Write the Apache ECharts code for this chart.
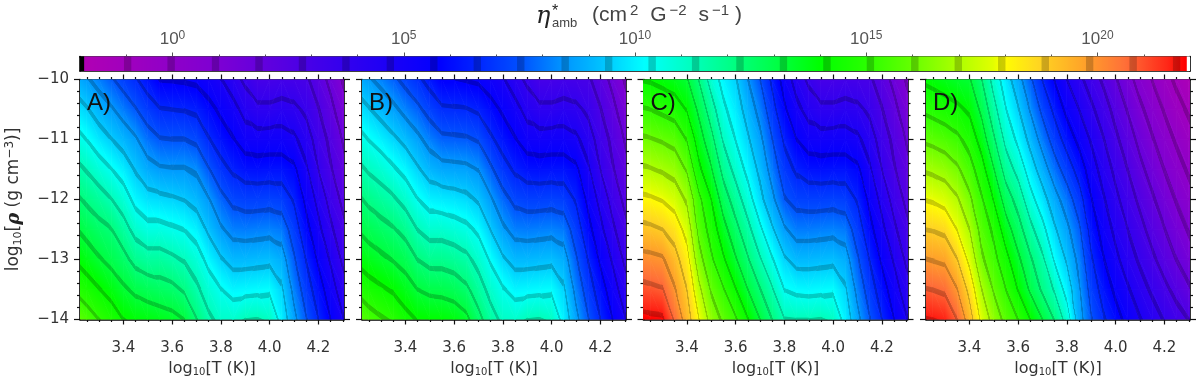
<!DOCTYPE html>
<html>
<head>
<meta charset="utf-8">
<style>
  html, body { margin: 0; background: #fff; }
  #chart { width: 1200px; height: 377px; }
</style>
<script src="https://cdn.jsdelivr.net/npm/echarts@6/dist/echarts.min.js"></script>
</head>
<body>
<div id="chart"></div>
<script>
// log10 of eta, one inner list per temperature column, density running -10 to -14
const tempColumns = [3.2, 3.25, 3.3, 3.35, 3.4, 3.45, 3.5, 3.55, 3.6, 3.65, 3.7, 3.75, 3.8, 3.85, 3.9, 3.95, 4.0, 4.05, 4.1, 4.15, 4.2, 4.25, 4.3, 4.35]
const rhoRows = [-10, -10.5, -11, -11.5, -12, -12.5, -13, -13.5, -14]

const panelA = [
  [9.0, 9.9, 10.75, 11.65, 12.5, 13.3, 14.1, 15.0, 15.95],
  [8.6, 9.5, 10.35, 11.25, 12.1, 12.9, 13.7, 14.6, 15.55],
  [8.15, 9.0, 9.85, 10.8, 11.75, 12.55, 13.3, 14.2, 15.1],
  [7.65, 8.6, 9.45, 10.4, 11.35, 12.3, 12.95, 13.8, 14.7],
  [7.15, 8.1, 9.05, 9.95, 10.85, 11.7, 12.55, 13.35, 14.15],
  [6.7, 7.6, 8.6, 9.35, 10.1, 11.0, 11.95, 13.0, 13.9],
  [6.15, 7.05, 7.95, 8.85, 9.75, 10.65, 11.7, 12.8, 13.8],
  [5.62, 6.65, 7.6, 8.6, 9.65, 10.65, 11.7, 12.65, 13.65],
  [5.6, 6.6, 7.55, 8.55, 9.55, 10.5, 11.5, 12.5, 13.5],
  [5.55, 6.55, 7.55, 8.55, 9.4, 10.35, 11.25, 12.15, 13.2],
  [5.45, 6.4, 7.35, 8.35, 9.1, 10.0, 10.8, 11.5, 12.3],
  [5.1, 5.95, 6.65, 7.6, 8.55, 9.25, 10.1, 10.85, 11.5],
  [4.75, 5.45, 6.15, 6.9, 7.8, 8.6, 9.5, 10.4, 11.05],
  [4.15, 5.05, 5.7, 6.45, 7.3, 8.15, 9.1, 10.05, 11.0],
  [3.55, 4.35, 5.2, 6.15, 7.15, 8.1, 9.1, 10.1, 11.3],
  [3.0, 4.0, 5.1, 6.1, 7.15, 8.15, 9.15, 10.15, 11.35],
  [3.0, 4.0, 5.15, 6.15, 7.2, 8.2, 9.2, 10.2, 11.15],
  [3.1, 4.15, 5.15, 6.15, 7.1, 8.05, 8.9, 9.55, 10.0],
  [3.05, 4.0, 4.9, 5.85, 6.5, 7.1, 7.65, 8.2, 8.75],
  [2.95, 3.55, 4.25, 4.85, 5.4, 5.95, 6.55, 7.05, 7.6],
  [2.35, 2.85, 3.3, 3.75, 4.4, 4.95, 5.5, 6.1, 6.6],
  [1.6, 2.15, 2.6, 2.9, 3.4, 3.95, 4.6, 5.15, 5.65],
  [0.85, 1.3, 1.8, 2.2, 2.6, 3.1, 3.6, 4.2, 4.8],
  [0.25, 0.7, 1.15, 1.55, 1.95, 2.4, 2.95, 3.5, 4.1]
]

const panelB = [
  [9.0, 9.9, 10.75, 11.6, 12.45, 13.2, 14.0, 14.95, 15.9],
  [8.6, 9.5, 10.35, 11.2, 12.05, 12.85, 13.65, 14.55, 15.5],
  [8.2, 9.1, 10.0, 10.9, 11.75, 12.6, 13.4, 14.3, 15.2],
  [7.75, 8.7, 9.6, 10.5, 11.45, 12.35, 13.15, 14.05, 14.95],
  [7.25, 8.2, 9.2, 10.1, 11.0, 11.95, 12.85, 13.65, 14.45],
  [6.8, 7.75, 8.7, 9.55, 10.4, 11.3, 12.25, 13.2, 14.1],
  [6.25, 7.2, 8.15, 9.05, 10.0, 10.95, 11.95, 13.0, 14.0],
  [5.7, 6.75, 7.75, 8.8, 9.9, 10.95, 11.95, 12.95, 13.95],
  [5.7, 6.7, 7.7, 8.75, 9.8, 10.8, 11.8, 12.8, 13.8],
  [5.6, 6.65, 7.65, 8.7, 9.65, 10.6, 11.55, 12.45, 13.45],
  [5.5, 6.45, 7.45, 8.45, 9.3, 10.2, 11.0, 11.75, 12.55],
  [5.15, 6.0, 6.75, 7.7, 8.6, 9.4, 10.25, 11.0, 11.7],
  [4.8, 5.5, 6.2, 6.95, 7.85, 8.65, 9.55, 10.45, 11.1],
  [4.15, 5.05, 5.7, 6.45, 7.3, 8.15, 9.1, 10.05, 11.0],
  [3.55, 4.35, 5.2, 6.15, 7.15, 8.1, 9.1, 10.1, 11.3],
  [3.0, 4.0, 5.1, 6.1, 7.15, 8.15, 9.15, 10.15, 11.35],
  [3.0, 4.0, 5.15, 6.15, 7.2, 8.2, 9.2, 10.2, 11.15],
  [3.1, 4.15, 5.15, 6.15, 7.1, 8.05, 8.9, 9.55, 10.0],
  [3.05, 4.0, 4.9, 5.85, 6.5, 7.1, 7.65, 8.2, 8.75],
  [2.95, 3.55, 4.25, 4.85, 5.4, 5.95, 6.55, 7.05, 7.6],
  [2.35, 2.85, 3.3, 3.75, 4.4, 4.95, 5.5, 6.1, 6.6],
  [1.6, 2.15, 2.6, 2.9, 3.4, 3.95, 4.6, 5.15, 5.65],
  [0.85, 1.3, 1.8, 2.2, 2.6, 3.1, 3.6, 4.2, 4.8],
  [0.25, 0.7, 1.15, 1.55, 1.95, 2.4, 2.95, 3.5, 4.1]
]

const panelC = [
  [14.15, 15.2, 16.2, 17.15, 18.15, 19.15, 20.15, 21.05, 22.0],
  [14.05, 15.1, 16.1, 17.05, 18.05, 19.05, 20.05, 20.95, 21.9],
  [13.85, 14.9, 15.95, 16.88, 17.88, 18.87, 19.93, 20.82, 21.85],
  [13.65, 14.67, 15.75, 16.65, 17.55, 18.46, 19.23, 19.9, 20.65],
  [13.3, 14.1, 15.05, 15.95, 16.85, 17.6, 18.28, 18.87, 19.35],
  [12.2, 13.0, 13.65, 14.35, 15.3, 15.75, 16.38, 17.2, 17.93],
  [10.9, 11.75, 12.55, 13.3, 14.15, 14.7, 15.25, 15.93, 16.6],
  [10.05, 10.55, 11.2, 11.95, 12.75, 13.55, 14.27, 15.15, 15.85],
  [9.5, 9.9, 10.35, 11.0, 11.8, 12.55, 13.3, 14.2, 15.2],
  [8.5, 9.05, 9.55, 10.1, 10.8, 11.6, 12.35, 13.2, 14.2],
  [7.55, 8.15, 8.7, 9.2, 9.7, 10.55, 11.4, 12.3, 13.2],
  [6.4, 6.95, 7.55, 8.1, 8.7, 9.55, 10.45, 11.4, 12.25],
  [5.25, 5.8, 6.45, 7.0, 7.6, 8.6, 9.55, 10.35, 11.35],
  [4.3, 4.95, 5.65, 6.45, 7.2, 8.1, 9.1, 10.15, 11.3],
  [3.55, 4.35, 5.2, 6.15, 7.15, 8.1, 9.1, 10.1, 11.3],
  [3.0, 4.0, 5.1, 6.1, 7.15, 8.15, 9.15, 10.15, 11.35],
  [3.0, 4.0, 5.15, 6.15, 7.2, 8.2, 9.2, 10.2, 11.15],
  [3.1, 4.15, 5.15, 6.15, 7.1, 8.05, 8.9, 9.55, 10.0],
  [3.05, 4.0, 4.9, 5.85, 6.5, 7.1, 7.65, 8.2, 8.75],
  [2.95, 3.55, 4.25, 4.85, 5.4, 5.95, 6.55, 7.05, 7.6],
  [2.35, 2.85, 3.3, 3.75, 4.4, 4.95, 5.5, 6.1, 6.6],
  [1.6, 2.15, 2.6, 2.9, 3.4, 3.95, 4.6, 5.15, 5.65],
  [0.85, 1.3, 1.8, 2.2, 2.6, 3.1, 3.6, 4.2, 4.8],
  [0.25, 0.7, 1.15, 1.55, 1.95, 2.4, 2.95, 3.5, 4.1]
]

const panelD = [
  [14.05, 15.0, 15.95, 16.95, 17.95, 18.9, 19.9, 20.85, 21.8],
  [13.85, 14.8, 15.8, 16.8, 17.83, 18.82, 19.78, 20.75, 21.7],
  [13.65, 14.6, 15.6, 16.6, 17.6, 18.65, 19.65, 20.6, 21.55],
  [13.45, 14.35, 15.3, 16.2, 17.1, 17.9, 18.9, 19.85, 20.75],
  [13.3, 14.0, 14.75, 15.5, 16.25, 17.0, 17.7, 18.6, 19.35],
  [12.3, 13.0, 13.75, 14.55, 15.2, 15.7, 16.2, 17.0, 17.7],
  [10.95, 11.65, 12.4, 13.25, 14.1, 14.9, 15.4, 15.95, 16.6],
  [9.85, 10.4, 11.05, 11.85, 12.75, 13.65, 14.45, 15.1, 15.75],
  [8.85, 9.5, 10.15, 11.0, 11.9, 12.65, 13.4, 14.1, 15.1],
  [7.7, 8.4, 9.15, 9.9, 10.7, 11.6, 12.4, 13.05, 14.15],
  [6.55, 7.3, 8.1, 8.95, 9.8, 10.65, 11.5, 12.1, 13.2],
  [5.6, 6.35, 7.1, 7.95, 8.85, 9.55, 10.25, 11.2, 12.2],
  [4.7, 5.4, 6.2, 7.1, 8.0, 8.7, 9.3, 10.0, 10.9],
  [4.0, 4.7, 5.4, 6.2, 7.0, 7.7, 8.2, 8.6, 8.9],
  [3.3, 3.95, 4.6, 5.15, 5.7, 6.2, 6.7, 7.15, 7.6],
  [2.65, 3.25, 3.8, 4.3, 4.8, 5.25, 5.7, 6.2, 6.7],
  [1.95, 2.5, 3.0, 3.5, 4.0, 4.45, 4.95, 5.45, 6.0],
  [1.25, 1.8, 2.3, 2.8, 3.25, 3.75, 4.2, 4.8, 5.35],
  [0.55, 1.1, 1.6, 2.1, 2.6, 3.1, 3.6, 4.15, 4.75],
  [-0.05, 0.5, 1.0, 1.5, 2.0, 2.45, 3.0, 3.6, 4.2],
  [-0.6, -0.1, 0.4, 0.9, 1.4, 1.9, 2.4, 3.05, 3.7],
  [-1.15, -0.65, -0.15, 0.35, 0.85, 1.35, 1.85, 2.5, 3.2],
  [-1.6, -1.1, -0.6, -0.15, 0.35, 0.85, 1.35, 2.0, 2.8],
  [-2.0, -1.55, -1.05, -0.6, -0.15, 0.35, 0.85, 1.5, 2.4]
]

const tempTicks = [3.4, 3.6, 3.8, 4.0, 4.2]
const tempMinorTicks = [3.25, 3.3, 3.35, 3.45, 3.5, 3.55, 3.65, 3.7, 3.75, 3.85, 3.9, 3.95, 4.05, 4.1, 4.15, 4.25, 4.3]
const rhoTicks = [-14, -13, -12, -11, -10]
const rhoMinorTicks = [-13.8, -13.6, -13.4, -13.2, -12.8, -12.6, -12.4, -12.2, -11.8, -11.6, -11.4, -11.2, -10.8, -10.6, -10.4, -10.2]
const barTicks = [0, 5, 10, 15, 20]
const barMinorTicks = [-1, 1, 2, 3, 4, 6, 7, 8, 9, 11, 12, 13, 14, 16, 17, 18, 19, 21]
const barRange = [-2, 22]
const panelNames = ['A)', 'B)', 'C)', 'D)']

// colour table: log10 eta and colour
const tableValues = [-1.88, 1.04, 3.2, 5.79, 7.52, 8.38, 9.24, 10.2, 11.19, 12.16, 13.13, 13.99, 14.97, 15.9, 16.8, 17.73, 17.95, 18.68, 19.6, 20.58, 21.5, 21.9]
const tableColors = ['#b000b4', '#7c00d4', '#4000ea', '#0000ff', '#0050ff', '#0090ff', '#00c0ff', '#00ffff', '#00ffc0', '#00ff80', '#00ff40', '#00ff00', '#28ff00', '#60ff00', '#a0ff00', '#e0ff00', '#ffff00', '#ffd820', '#ffa828', '#ff7038', '#ff2818', '#ff0000']
const bandFirst = -0.968
const bandStep = 0.945
const bandHalf = 0.08

const tableRgb = tableColors.map(c => [1, 3, 5].map(i => parseInt(c.substr(i, 2), 16)))

function colorAt(v) {
  if (v < barRange[0] + 0.09) return 'rgb(0,0,0)'
  if (v > 21.92) return 'rgb(255,255,255)'
  let i = 0
  while (i < tableValues.length - 2 && v > tableValues[i + 1]) i++
  const t = Math.min(1, Math.max(0, (v - tableValues[i]) / (tableValues[i + 1] - tableValues[i])))
  let rgb = tableRgb[i].map((c, n) => c + (tableRgb[i + 1][n] - c) * t)
  // the contours are dark bands of the colour table itself
  const k = Math.round((v - bandFirst) / bandStep)
  if (k >= 0 && k <= 24 && Math.abs(v - (bandFirst + k * bandStep)) < bandHalf) {
    rgb = rgb.map(c => c * 0.8)
  }
  return 'rgb(' + rgb.map(Math.round).join(',') + ')'
}

// panels stop short of the white end cell of the bar
function panelColorAt(v) {
  return colorAt(Math.min(21.9, Math.max(-1.85, v)))
}

function shadeTriangle(pts, vals) {
  // fill one triangle with the colour table laid along its value gradient
  const dx1 = pts[1][0] - pts[0][0]
  const dy1 = pts[1][1] - pts[0][1]
  const dx2 = pts[2][0] - pts[0][0]
  const dy2 = pts[2][1] - pts[0][1]
  const det = dx1 * dy2 - dx2 * dy1
  const dv1 = vals[1] - vals[0]
  const dv2 = vals[2] - vals[0]
  const gx = (dv1 * dy2 - dv2 * dy1) / det
  const gy = (dv2 * dx1 - dv1 * dx2) / det
  const g2 = gx * gx + gy * gy
  const vMin = Math.min(...vals)
  const vMax = Math.max(...vals)
  if (g2 < 1e-9 || vMax - vMin < 1e-6) return panelColorAt(vMin)
  const p = pts[vals.indexOf(vMin)]
  const span = vMax - vMin
  const stops = []
  const n = Math.ceil(span / 0.03)
  for (let s = 0; s <= n; s++) {
    stops.push({ offset: s / n, color: panelColorAt(vMin + span * s / n) })
  }
  return new echarts.graphic.LinearGradient(p[0], p[1], p[0] + gx / g2 * span, p[1] + gy / g2 * span, stops, true)
}

function renderCell(params, api) {
  const c00 = api.coord([api.value(0), api.value(1)])
  const c10 = api.coord([api.value(2), api.value(1)])
  const c01 = api.coord([api.value(0), api.value(3)])
  const c11 = api.coord([api.value(2), api.value(3)])
  const v00 = api.value(4)
  const v10 = api.value(5)
  const v01 = api.value(6)
  const v11 = api.value(7)
  let tris
  if (Math.abs(v00 - v11) < Math.abs(v10 - v01)) {
    tris = [[[c00, c10, c11], [v00, v10, v11]], [[c00, c11, c01], [v00, v11, v01]]]
  } else {
    tris = [[[c00, c10, c01], [v00, v10, v01]], [[c10, c11, c01], [v10, v11, v01]]]
  }
  return {
    type: 'group',
    children: tris.map(t => {
      const fill = shadeTriangle(t[0], t[1])
      return {
        type: 'polygon',
        shape: { points: t[0] },
        style: { fill: fill, stroke: fill, lineWidth: 0.8 },
        silent: true
      }
    })
  }
}

function cellsOf(values) {
  const cells = []
  for (let i = 0; i < tempColumns.length - 1; i++) {
    for (let j = 0; j < rhoRows.length - 1; j++) {
      cells.push([tempColumns[i], rhoRows[j], tempColumns[i + 1], rhoRows[j + 1], values[i][j], values[i + 1][j], values[i][j + 1], values[i + 1][j + 1]])
    }
  }
  return cells
}

function renderBar(params, api) {
  const a = api.coord([api.value(0), 0])
  const b = api.coord([api.value(1), 1])
  const stops = []
  for (let s = 0; s <= 1200; s++) {
    stops.push({ offset: s / 1200, color: colorAt(api.value(0) + (api.value(1) - api.value(0)) * s / 1200) })
  }
  return {
    type: 'rect',
    shape: { x: a[0], y: b[1], width: b[0] - a[0], height: a[1] - b[1] },
    style: { fill: new echarts.graphic.LinearGradient(0, 0, 1, 0, stops) },
    silent: true
  }
}

const axisColor = '#000'
const tickColor = '#111'
const labelFont = 'DejaVu Sans'

function oneAxis(gridIndex, pos, min, max, ticks, tickLen, line, extra) {
  return Object.assign({
    type: 'value',
    gridIndex: gridIndex,
    position: pos,
    min: min,
    max: max,
    splitLine: { show: false },
    axisLine: { show: line, onZero: false, lineStyle: { color: axisColor, width: 1.6 } },
    axisTick: { show: true, customValues: ticks, length: tickLen, lineStyle: { color: tickColor, width: 1.2 } },
    axisLabel: { show: false }
  }, extra || {})
}

const xAxes = []
const yAxes = []
const seriesList = []
const grids = []
const panelLefts = [80, 362, 643.5, 926]
const allPanels = [panelA, panelB, panelC, panelD]

const labelRich = {
  a: { fontFamily: labelFont, fontSize: 16, color: '#333' },
  s: { fontFamily: labelFont, fontSize: 10, color: '#333', padding: [8, 0, 0, 0] },
  p: { fontFamily: labelFont, fontSize: 11, color: '#333', padding: [0, 0, 8, 0] },
  r: { fontFamily: 'DejaVu Serif', fontSize: 17, fontStyle: 'italic', fontWeight: 'bold', color: '#222' }
}
const rhoNameRich = {
  a: { fontFamily: labelFont, fontSize: 17, color: '#333' },
  s: { fontFamily: labelFont, fontSize: 11, color: '#333', padding: [8, 0, 0, 0] },
  p: { fontFamily: labelFont, fontSize: 12, color: '#333', padding: [0, 0, 8, 0] },
  r: { fontFamily: 'DejaVu Serif', fontSize: 18, fontStyle: 'italic', fontWeight: 'bold', color: '#222' }
}

allPanels.forEach((values, g) => {
  grids.push({ left: panelLefts[g], top: 79.5, width: 264, height: 240, outerBoundsMode: 'none' })
  const xMin = 3.222
  const xMax = 4.305
  const xi = xAxes.length
  const yi = yAxes.length
  xAxes.push(oneAxis(g, 'bottom', xMin, xMax, tempTicks, 5, true, {
    axisLabel: {
      show: true,
      customValues: tempTicks,
      margin: 21,
      fontFamily: labelFont,
      fontSize: 15,
      color: '#333',
      formatter: v => v.toFixed(1)
    },
    name: '{a|log}{s|10}{a|[T (K)]}',
    nameLocation: 'middle',
    nameGap: 40,
    nameTextStyle: { rich: labelRich }
  }))
  xAxes.push(oneAxis(g, 'bottom', xMin, xMax, tempMinorTicks, 2.5, false))
  xAxes.push(oneAxis(g, 'top', xMin, xMax, tempTicks, 5, true))
  xAxes.push(oneAxis(g, 'top', xMin, xMax, tempMinorTicks, 2.5, false))

  const leftExtra = g === 0 ? {
    axisLabel: {
      show: true,
      customValues: rhoTicks,
      margin: 11,
      fontFamily: labelFont,
      fontSize: 15,
      color: '#333',
      formatter: v => '\u2212' + Math.abs(v)
    },
    name: '{a|log}{s|10}{a|[}{r|\u03c1}{a| (g cm}{p|\u22123}{a|)]}',
    nameLocation: 'middle',
    nameGap: 56,
    nameRotate: 90,
    nameTextStyle: { rich: rhoNameRich }
  } : {}
  yAxes.push(oneAxis(g, 'left', -14, -10, rhoTicks, 6, true, leftExtra))
  yAxes.push(oneAxis(g, 'left', -14, -10, rhoMinorTicks, 3, false))
  yAxes.push(oneAxis(g, 'right', -14, -10, rhoTicks, 6, true))
  yAxes.push(oneAxis(g, 'right', -14, -10, rhoMinorTicks, 3, false))

  seriesList.push({
    type: 'custom',
    xAxisIndex: xi,
    yAxisIndex: yi,
    clip: true,
    silent: true,
    animation: false,
    renderItem: renderCell,
    encode: { x: [0, 2], y: [1, 3] },
    data: cellsOf(values)
  })
})

// colour bar
grids.push({ left: 80, top: 56.5, width: 1110, height: 14.5, outerBoundsMode: 'none' })
const barX = xAxes.length
xAxes.push(oneAxis(4, 'top', barRange[0], barRange[1], barTicks, 4, true, {
  axisLabel: {
    show: true,
    customValues: barTicks,
    margin: 7,
    formatter: v => '{b|10}{u|' + v + '}',
    rich: {
      b: { fontFamily: 'Liberation Sans', fontSize: 17, color: '#555' },
      u: { fontFamily: 'Liberation Sans', fontSize: 12, color: '#555', padding: [0, 0, 8, 0] }
    }
  },
  axisTick: { show: true, customValues: barTicks, length: 4, lineStyle: { color: '#555', width: 1 } }
}))
xAxes.push(oneAxis(4, 'top', barRange[0], barRange[1], barMinorTicks, 2, false, {
  axisTick: { show: true, customValues: barMinorTicks, length: 2, lineStyle: { color: '#555', width: 1 } }
}))
xAxes.push(oneAxis(4, 'bottom', barRange[0], barRange[1], [], 0, true, { axisTick: { show: false } }))
const barY = yAxes.length
yAxes.push({ type: 'value', gridIndex: 4, position: 'left', min: 0, max: 1, axisLine: { show: true, onZero: false, lineStyle: { color: axisColor, width: 1.6 } }, axisTick: { show: false }, axisLabel: { show: false }, splitLine: { show: false } })
yAxes.push({ type: 'value', gridIndex: 4, position: 'right', min: 0, max: 1, axisLine: { show: true, onZero: false, lineStyle: { color: axisColor, width: 1.6 } }, axisTick: { show: false }, axisLabel: { show: false }, splitLine: { show: false } })
seriesList.push({
  type: 'custom',
  xAxisIndex: barX,
  yAxisIndex: barY,
  silent: true,
  animation: false,
  renderItem: renderBar,
  encode: { x: [0, 1] },
  data: [barRange]
})

const titleColor = '#444'
const panelLabels = panelNames.map((name, g) => ({
  type: 'text',
  left: panelLefts[g] + 7,
  top: 91,
  z: 100,
  style: { text: name, fontFamily: 'Liberation Sans', fontSize: 24, fill: '#111' }
}))

const chart = echarts.init(document.getElementById('chart'), null, { renderer: 'canvas' })
chart.setOption({
  animation: false,
  backgroundColor: '#fff',
  grid: grids,
  xAxis: xAxes,
  yAxis: yAxes,
  series: seriesList,
  graphic: panelLabels.concat([
    { type: 'text', left: 536, top: 5, style: { text: '\u03b7', fontFamily: 'DejaVu Serif', fontStyle: 'italic', fontSize: 24, fill: '#222' } },
    { type: 'text', left: 552, top: 4, style: { text: '*', fontFamily: 'Liberation Sans', fontSize: 16, fill: '#222' } },
    { type: 'text', left: 552, top: 17, style: { text: 'amb', fontFamily: 'Liberation Sans', fontSize: 13, fill: titleColor } },
    {
      type: 'text',
      left: 592,
      top: 3,
      style: {
        text: '{m|(cm}{u|2}{m| G}{u|\u22122}{m| s}{u|\u22121}{m|)}',
        rich: {
          m: { fontFamily: 'Liberation Sans', fontSize: 21, fill: titleColor, padding: [0, 1, 0, 1] },
          u: { fontFamily: 'Liberation Sans', fontSize: 15, fill: titleColor, padding: [0, 5, 10, 2] }
        }
      }
    }
  ])
})
</script>
</body>
</html>
